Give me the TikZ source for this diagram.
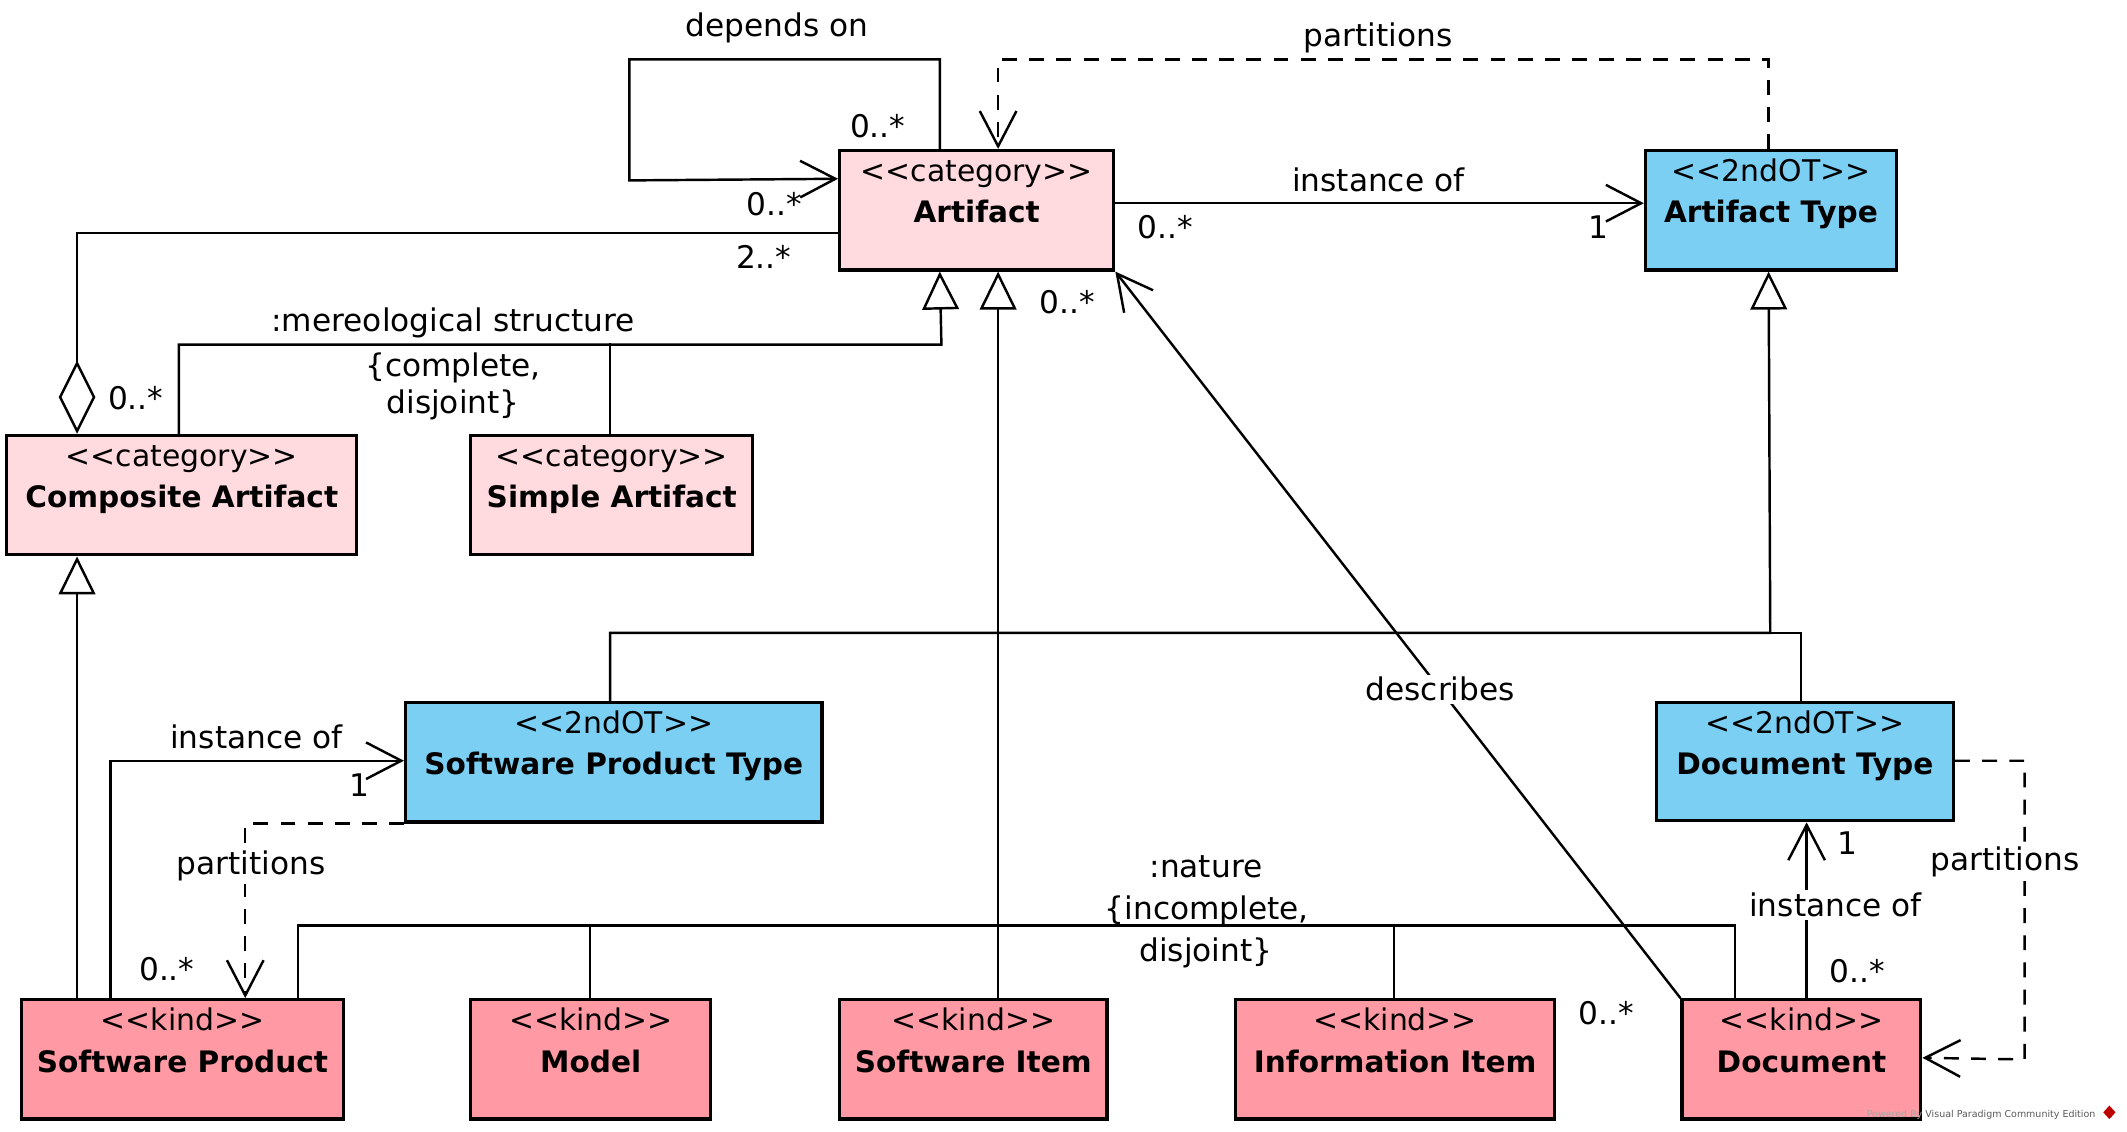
\documentclass[tikz,border=0pt]{standalone}
\usepackage{fontspec}
\setmainfont{DejaVu Sans}
\usetikzlibrary{arrows.meta,calc}
\definecolor{catpink}{RGB}{255,218,222}
\definecolor{kindpink}{RGB}{255,153,163}
\definecolor{otblue}{RGB}{122,207,243}
\newcommand\stq[1]{<\kern0pt<\kern0pt#1\kern0pt>\kern0pt>}
\newcommand\umlcls[8]{%
  \node[clsbox, fill=#6, minimum width={(#4)-(#2)}, minimum height={(#5)-(#3)}] (#1) at ({((#2)+(#4))/2},{((#3)+(#5))/2}) {};
  \node[stereo, anchor=base] (#1-s) at ($(#1.north)+(0,24)$) {\stq{#7}};
  \node[ctitle, anchor=base] (#1-t) at ($(#1.north)+(0,54.5)$) {#8};
}
\begin{document}
\begin{tikzpicture}[x=1pt,y=-1pt,
  clsbox/.style={draw, line width=2.4pt, inner sep=0pt},
  stereo/.style={inner sep=0pt, font=\fontsize{22}{27}\selectfont},
  ctitle/.style={inner sep=0pt, font=\fontsize{21.8}{26}\selectfont\bfseries},
  lab/.style={inner sep=0pt, anchor=base, font=\fontsize{23}{27}\selectfont},
  wlab/.style={lab, fill=white, inner sep=2pt},
  conn/.style={draw, line width=1.8pt},
  dshline/.style={dash pattern=on 11pt off 9pt},
  openarr/.style={-{Straight Barb[length=26pt,width=27pt]}},
  genarr/.style={-{Triangle[length=28pt,width=27pt,fill=white]}},
  aggstart/.style={{Diamond[length=54pt,width=27pt,fill=white]}-},
]
\useasboundingbox (0,0) rectangle (1568,834);

% classes
\umlcls{art}{619}{111}{821}{199}{catpink}{category}{Artifact}
\umlcls{artT}{1213}{111}{1398}{199}{otblue}{2ndOT}{Artifact Type}
\umlcls{comp}{5}{321}{263}{409}{catpink}{category}{Composite Artifact}
\umlcls{simple}{347}{321}{555}{409}{catpink}{category}{Simple Artifact}
\umlcls{spt}{299}{518}{606}{606}{otblue}{2ndOT}{Software Product Type}
\umlcls{dt}{1221}{518}{1440}{605}{otblue}{2ndOT}{Document Type}
\umlcls{sp}{16}{737}{253}{825}{kindpink}{kind}{Software Product}
\umlcls{model}{347}{737}{524}{825}{kindpink}{kind}{Model}
\umlcls{si}{619}{737}{816}{825}{kindpink}{kind}{Software Item}
\umlcls{ii}{911}{737}{1146}{825}{kindpink}{kind}{Information Item}
\umlcls{doc}{1240}{737}{1416}{825}{kindpink}{kind}{Document}

% depends on (self loop)
\draw[conn,openarr] ($(art.north west)+(75,0)$) -- ++(0,-66) -| (464,133) -- ($(art.north west)+(0,22)$);
\node[lab] (l-dep) at (573,27) {depends on};
\node[lab] (m-dep1) at (647,101) {0..*};
\node[lab] (m-dep2) at (571,158.5) {0..*};

% partitions (Artifact Type -> Artifact)
\draw[conn,dshline,openarr] ($(artT.north west)+(92,0)$) -- ++(0,-66) -| ($(art.north west)+(118,0)$);
\node[lab] (l-part1) at (1016,34.4) {partitions};

% instance of (Artifact -> Artifact Type)
\draw[conn,openarr] ($(art.north east)+(0,40)$) -- ($(artT.north west)+(0,40)$);
\node[lab] (l-inst1) at (1016,141) {instance of};
\node[lab] (m-inst1a) at (859,175.7) {0..*};
\node[lab] (m-inst1b) at (1178,175.7) {1};

% aggregation
\draw[conn,aggstart] ($(comp.north west)+(53,0)$) |- ($(art.north west)+(0,62)$);
\node[lab] (m-agg1) at (563,197.7) {2..*};
\node[lab] (m-agg2) at (100,302) {0..*};

% mereological structure generalization set
\draw[conn,genarr] ($(comp.north west)+(128,0)$) |- (694,254) -- ($(art.south west)+(75,0)$);
\draw[conn] ($(simple.north west)+(104,0)$) -- ++(0,-67);
\node[lab] (l-mer1) at (334,244.5) {:mereological structure};
\node[lab] (l-mer2) at (334,277.7) {\{complete,};
\node[lab] (l-mer3) at (334,304.6) {disjoint\}};

% Software Product -> Composite Artifact
\draw[conn,genarr] ($(sp.north west)+(42,0)$) -- ($(comp.south west)+(53,0)$);

% kinds -> Artifact
\draw[conn,genarr] ($(si.north west)+(118,0)$) -- ($(art.south west)+(118,0)$);
\draw[conn] ($(sp.north west)+(205,0)$) |- ($(doc.north west)+(40,-53.5)$) -- ($(doc.north west)+(40,0)$);
\draw[conn] ($(model.north west)+(89,0)$) -- ++(0,-53.5);
\draw[conn] ($(ii.north west)+(118,0)$) -- ++(0,-53.5);
\node[lab] (l-nat1) at (889,647) {:nature};
\node[lab] (l-nat2) at (889.6,678) {\{incomplete,};
\node[lab] (l-nat3) at (889,709) {disjoint\}};

% types -> Artifact Type
\draw[conn,genarr] ($(spt.north west)+(152,0)$) |- (1305,466.5) -- ($(artT.south west)+(92,0)$);
\draw[conn] ($(dt.north west)+(108,0)$) |- (1305,466.5);

% describes
\draw[conn,openarr] (doc.north west) -- node[pos=0.425, fill=white, inner sep=2pt, font=\fontsize{23}{27}\selectfont] (l-desc) {describes} (art.south east);
\node[lab] (m-desc1) at (787,231) {0..*};
\node[lab] (m-desc2) at (1184,755.6) {0..*};

% instance of (Software Product -> Software Product Type)
\draw[conn,openarr] ($(sp.north west)+(66.5,0)$) |- ($(spt.north west)+(0,44)$);
\node[lab] (l-inst2) at (189,552) {instance of};
\node[lab] (m-inst2) at (264.6,587) {1};

% partitions (Software Product Type -> Software Product)
\draw[conn,dshline,openarr] (spt.south west) -| ($(sp.north west)+(166,0)$);
\node[wlab] (l-part2) at (185,645) {partitions};
\node[lab] (m-part2) at (123,722.5) {0..*};

% instance of (Document -> Document Type)
\draw[conn,openarr] ($(doc.north west)+(93,0)$) -- ($(dt.south west)+(112,0)$);
\node[wlab] (l-inst3) at (1353,675.7) {instance of};
\node[lab] (m-inst3a) at (1362,629.6) {1};
\node[lab] (m-inst3b) at (1369,724.4) {0..*};

% partitions (Document Type -> Document)
\draw[conn,dshline,openarr] ($(dt.north east)+(0,44)$) -| (1492.5,781) -- ($(doc.north east)+(0,44)$);
\node[wlab] (l-part3) at (1478,642) {partitions};

% footer
\node[anchor=base west, inner sep=0pt, font=\fontsize{7}{8}\selectfont] (footer) at (1376,823.5) {\textcolor{black!35}{Powered By} \textcolor{black!65}{Visual Paradigm Community Edition}};
\fill[red!75!black] (1555,815) -- (1559.5,820) -- (1555,825) -- (1550.5,820) -- cycle;
\end{tikzpicture}
\end{document}
